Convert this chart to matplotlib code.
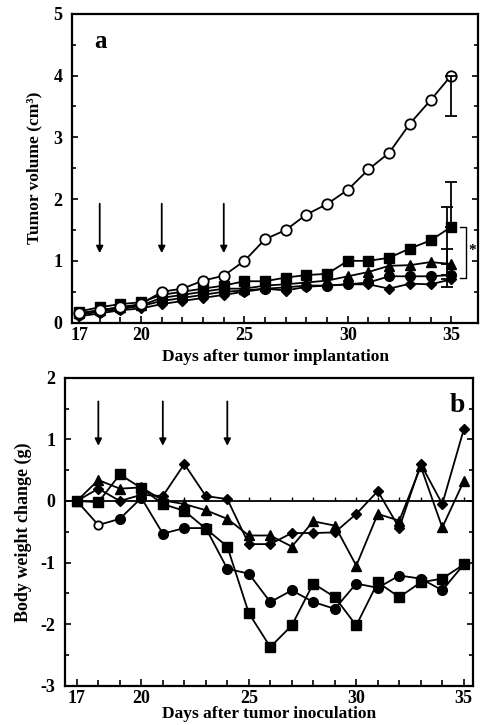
import matplotlib
matplotlib.use("Agg")
import matplotlib.pyplot as plt
import numpy as np

plt.rcParams['font.family'] = ['Liberation Serif', 'DejaVu Serif']
plt.rcParams['font.weight'] = 'bold'
plt.rcParams['axes.unicode_minus'] = False

# giorni di osservazione
days = np.arange(17, 36)

# pannello a: volume tumorale (cm3)
vol_ctrl = [0.15, 0.20, 0.25, 0.30, 0.50, 0.55, 0.68, 0.76, 1.00, 1.35, 1.50, 1.75, 1.92, 2.15, 2.48, 2.75, 3.22, 3.60, 4.00]
vol_sq = [0.18, 0.25, 0.30, 0.33, 0.45, 0.50, 0.55, 0.60, 0.67, 0.67, 0.73, 0.77, 0.79, 1.00, 1.00, 1.05, 1.20, 1.33, 1.55]
vol_tri = [0.15, 0.20, 0.25, 0.28, 0.40, 0.45, 0.50, 0.55, 0.55, 0.60, 0.62, 0.65, 0.68, 0.75, 0.82, 0.92, 0.93, 0.98, 0.95]
vol_circ = [0.12, 0.18, 0.22, 0.27, 0.35, 0.40, 0.45, 0.50, 0.52, 0.55, 0.57, 0.60, 0.60, 0.62, 0.65, 0.75, 0.75, 0.75, 0.77]
vol_dia = [0.10, 0.15, 0.20, 0.23, 0.30, 0.35, 0.40, 0.45, 0.50, 0.55, 0.52, 0.58, 0.60, 0.62, 0.62, 0.55, 0.63, 0.62, 0.70]

# barre d'errore al giorno 35: (basso, alto)
err_ctrl = (0.65, 0.0)
err_sq = (0.0, 0.72)
err_tri = (0.0, 0.92)
err_circ = (0.0, 0.42)
err_dia = (0.12, 0.0)

# pannello b: variazione peso corporeo (g)
bw_dia = [0, 0.20, 0.00, 0.10, 0.08, 0.60, 0.08, 0.03, -0.70, -0.70, -0.52, -0.52, -0.51, -0.21, 0.16, -0.44, 0.60, -0.05, 1.16]
bw_tri = [0, 0.34, 0.20, 0.22, 0.01, -0.05, -0.15, -0.29, -0.56, -0.56, -0.74, -0.33, -0.40, -1.05, -0.21, -0.32, 0.56, -0.43, 0.32]
bw_sq = [0, -0.02, 0.43, 0.21, -0.05, -0.16, -0.45, -0.74, -1.82, -2.37, -2.02, -1.34, -1.56, -2.02, -1.32, -1.56, -1.32, -1.26, -1.03]
bw_circ = [0, -0.39, -0.29, 0.05, -0.53, -0.44, -0.44, -1.10, -1.18, -1.64, -1.45, -1.64, -1.75, -1.34, -1.41, -1.21, -1.26, -1.45, -1.03]

# giorni di trattamento (frecce)
dose_days = [18, 21, 24]

xticks = [17, 20, 25, 30, 35]

fig = plt.figure(figsize=(4.8, 7.25), dpi=100)
ax1 = fig.add_axes([0.150, 0.555, 0.846, 0.426])
ax2 = fig.add_axes([0.135, 0.054, 0.850, 0.425])

lw = 1.3
kw = dict(color='black', lw=lw)

# --- pannello a ---
ax1.plot(days, vol_sq, marker='s', ms=6.5, mfc='black', **kw)
ax1.plot(days, vol_tri, marker='^', ms=7, mfc='black', **kw)
ax1.plot(days, vol_circ, marker='o', ms=7, mfc='black', **kw)
ax1.plot(days, vol_dia, marker='D', ms=5.5, mfc='black', **kw)
ax1.plot(days, vol_ctrl, marker='o', ms=7.5, mfc='white', mec='black', mew=1.3, **kw)

for serie, err, dx in [(vol_ctrl, err_ctrl, 0.0), (vol_sq, err_sq, 0.0), (vol_tri, err_tri, -0.18),
                       (vol_circ, err_circ, -0.18), (vol_dia, err_dia, -0.18)]:
    ax1.errorbar(days[-1] + dx, serie[-1], yerr=[[err[0]], [err[1]]], fmt='none',
                 ecolor='black', elinewidth=1.3, capsize=4, capthick=1.3)

# parentesi con asterisco
bx = 35.72
ax1.plot([bx - 0.3, bx, bx, bx - 0.3], [vol_sq[-1], vol_sq[-1], vol_circ[-1] - 0.05, vol_circ[-1] - 0.05],
         color='black', lw=1)
ax1.text(bx + 0.28, (vol_sq[-1] + vol_circ[-1]) / 2, '*', ha='center', va='center', fontsize=11)

for d in dose_days:
    ax1.annotate('', xy=(d, 1.08), xytext=(d, 1.97),
                 arrowprops=dict(arrowstyle='-|>', color='black', lw=1.3, mutation_scale=10))

ax1.text(17.75, 4.55, 'a', fontsize=18, fontweight='bold', va='center')
ax1.set_xlim(16.66, 36.3)
ax1.set_ylim(0, 5)
ax1.set_yticks(range(6))
ax1.set_yticks(np.arange(0.5, 5, 1), minor=True)
ax1.set_xlabel('Days after tumor implantation', fontsize=12.5, fontweight='bold', labelpad=4)
ax1.set_ylabel('Tumor volume (cm³)', fontsize=12.5, fontweight='bold', labelpad=8)

# --- pannello b ---
ax2.axhline(0, color='black', lw=1.3)
ax2.vlines(days, 0, 0.06, color='black', lw=1)
ax2.plot(days, bw_dia, marker='D', ms=5.5, mfc='black', **kw)
ax2.plot(days, bw_tri, marker='^', ms=7, mfc='black', **kw)
ax2.plot(days, bw_sq, marker='s', ms=7, mfc='black', **kw)
pieni = [i for i in range(len(days)) if i != 1]
ax2.plot(days, bw_circ, marker='o', ms=7, mfc='black', markevery=pieni, **kw)
ax2.plot(days[1], bw_circ[1], marker='o', ms=6, mfc='white', mec='black', mew=1.3, ls='none')

for d in dose_days:
    ax2.annotate('', xy=(d, 0.85), xytext=(d, 1.66),
                 arrowprops=dict(arrowstyle='-|>', color='black', lw=1.3, mutation_scale=10))

ax2.text(34.35, 1.55, 'b', fontsize=20, fontweight='bold', va='center')
ax2.set_xlim(16.44, 35.42)
ax2.set_ylim(-3, 2)
ax2.set_yticks(range(-3, 3))
ax2.set_yticks(np.arange(-2.5, 2, 1), minor=True)
ax2.set_xlabel('Days after tumor inoculation', fontsize=12.5, fontweight='bold', labelpad=-1)
ax2.set_ylabel('Body weight change (g)', fontsize=13, fontweight='bold', labelpad=6)

for ax in (ax1, ax2):
    ax.set_xticks(xticks)
    ax.set_xticks(days, minor=True)
    ax.tick_params(axis='both', which='both', direction='in', labelsize=13, width=1.2)
    ax.tick_params(axis='x', which='major', length=5, pad=3)
    ax.tick_params(axis='x', which='minor', length=4)
    ax.tick_params(axis='y', which='major', length=4, pad=7, right=True)
    ax.tick_params(axis='y', which='minor', length=3, right=True)
    for lab in ax.get_xticklabels() + ax.get_yticklabels():
        lab.set_fontweight('bold')
    for sp in ax.spines.values():
        sp.set_linewidth(1.6)

fig.savefig('out.png', dpi=100)
